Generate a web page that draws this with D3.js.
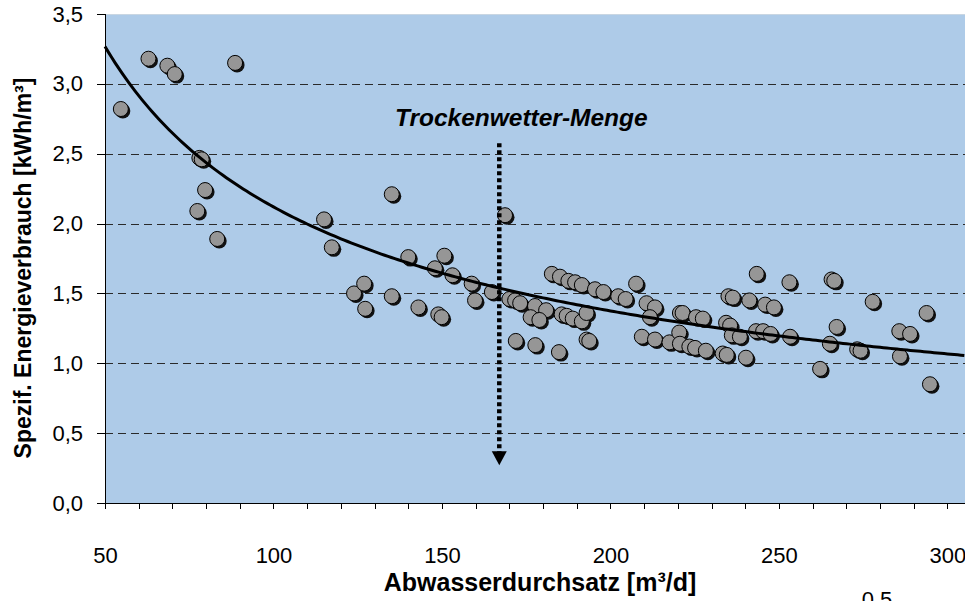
<!DOCTYPE html>
<html lang="de">
<head>
<meta charset="utf-8">
<title>Spezifischer Energieverbrauch</title>
<script src="https://d3js.org/d3.v7.min.js"></script>
<style>
  body { margin: 0; background: #fff; }
  .axis path, .axis line { fill: none; stroke: #000; shape-rendering: crispEdges; }
  .axis text { font-family: "Liberation Sans", Arial, sans-serif; font-size: 22px; fill: #000; }
  .title { font-family: "Liberation Sans", Arial, sans-serif; font-weight: bold; }
</style>
</head>
<body>
<script>
// Abwasserdurchsatz [m³/d]
var durchsatz = [54.7, 62.9, 68.5, 70.7, 88.6, 78.0, 78.7, 79.7, 77.4, 83.3,
  115.0, 117.3, 135.1, 123.9, 126.9, 127.2, 135.1, 140.0, 150.7, 147.9,
  153.1, 143.0, 148.9, 149.9, 158.8, 159.8, 164.8, 168.7, 170.0, 171.7,
  173.2, 171.9, 177.7, 184.7, 177.6, 180.9, 176.3, 178.9, 182.6, 185.0,
  187.5, 189.5, 191.5, 195.4, 197.9, 202.3, 204.5, 207.6, 185.5, 187.0,
  188.8, 191.5, 192.9, 192.9, 193.7, 210.7, 213.2, 211.7, 209.3, 213.2,
  220.6, 221.4, 225.4, 227.4, 217.5, 220.4, 220.6, 223.4, 225.1, 228.3,
  233.3, 234.5, 240.2, 235.0, 236.3, 241.2, 245.9, 248.5, 243.4, 253.1,
  234.3, 235.5, 236.0, 238.4, 243.2, 245.3, 247.5, 253.3, 265.6, 266.4,
  277.8, 293.8, 267.1, 285.7, 288.9, 265.1, 273.2, 274.2, 285.9, 262.2, 294.8];

// Spezif. Energieverbrauch [kWh/m³]
var energie = [2.82, 3.18, 3.13, 3.07, 3.15, 2.47, 2.46, 2.24, 2.09, 1.89,
  2.03, 1.83, 2.21, 1.50, 1.57, 1.39, 1.48, 1.76, 1.77, 1.68,
  1.63, 1.40, 1.35, 1.33, 1.57, 1.45, 1.51, 2.06, 1.46, 1.45,
  1.43, 1.16, 1.13, 1.08, 1.41, 1.38, 1.33, 1.31, 1.64, 1.62,
  1.59, 1.58, 1.56, 1.53, 1.51, 1.48, 1.46, 1.57, 1.35, 1.34,
  1.32, 1.30, 1.36, 1.17, 1.16, 1.43, 1.40, 1.33, 1.19, 1.17,
  1.36, 1.36, 1.33, 1.32, 1.15, 1.22, 1.14, 1.12, 1.11, 1.09,
  1.07, 1.06, 1.04, 1.48, 1.47, 1.45, 1.42, 1.40, 1.64, 1.58,
  1.29, 1.27, 1.20, 1.19, 1.23, 1.23, 1.21, 1.19, 1.60, 1.59,
  1.44, 1.36, 1.26, 1.23, 1.21, 1.14, 1.10, 1.09, 1.05, 0.96, 0.85];

var xTicks = [50, 100, 150, 200, 250, 300];
var yTicks = [0, 0.5, 1.0, 1.5, 2.0, 2.5, 3.0, 3.5];

// power trendline y = a * x^b
var trendA = 37.6;
var trendB = -0.6245;

// Trockenwetter-Menge marker (x, from y to y)
var twLabel = "Trockenwetter-Menge";
var twX = 167;
var twY = [2.575, 0.27];

var w = 965, h = 601;
var mLeft = 105, mTop = 14, mBottom = 503, mRight = 965;

var dataset = durchsatz.map(function (d, i) { return [d, energie[i]]; });

var xScale = d3.scaleLinear().domain([50, 305.2]).range([mLeft, mRight]);
var yScale = d3.scaleLinear().domain([0, 3.5]).range([mBottom, mTop]);

var fmt = function (d) { return d3.format(".1f")(d).replace(".", ","); };

var svg = d3.select("body").append("svg")
  .attr("width", w)
  .attr("height", h);

//plot area
svg.append("rect")
  .attr("x", mLeft).attr("y", mTop)
  .attr("width", mRight - mLeft).attr("height", mBottom - mTop)
  .attr("fill", "#aecbe8");

svg.append("line")
  .attr("x1", mLeft).attr("x2", mRight)
  .attr("y1", yScale(3.5) + 0.5).attr("y2", yScale(3.5) + 0.5)
  .attr("stroke", "#c9d6e2");

//gridlines
svg.selectAll(".grid")
  .data(yTicks.filter(function (d) { return d > 0 && d < 3.5; }))
  .enter().append("line")
  .attr("class", "grid")
  .attr("x1", mLeft).attr("x2", mRight)
  .attr("y1", function (d) { return Math.round(yScale(d)) + 0.5; })
  .attr("y2", function (d) { return Math.round(yScale(d)) + 0.5; })
  .attr("stroke", "#2a2a2a")
  .attr("stroke-dasharray", "8,5");

//points with shadow
var pts = svg.append("g");
pts.selectAll(".shadow")
  .data(dataset).enter().append("circle")
  .attr("class", "shadow")
  .attr("cx", function (d) { return xScale(d[0]) + 2; })
  .attr("cy", function (d) { return yScale(d[1]) + 2; })
  .attr("r", 7.5)
  .attr("fill", "#111");
pts.selectAll(".dot")
  .data(dataset).enter().append("circle")
  .attr("class", "dot")
  .attr("cx", function (d) { return xScale(d[0]); })
  .attr("cy", function (d) { return yScale(d[1]); })
  .attr("r", 7.5)
  .attr("fill", "#969696")
  .attr("stroke", "#000")
  .attr("stroke-width", 1);

//trendline
var trend = d3.range(50, 305.3, 1).map(function (x) { return [x, trendA * Math.pow(x, trendB)]; });
svg.append("path")
  .datum(trend)
  .attr("fill", "none")
  .attr("stroke", "#000")
  .attr("stroke-width", 3)
  .attr("d", d3.line()
    .x(function (d) { return xScale(d[0]); })
    .y(function (d) { return yScale(d[1]); }));

//dotted arrow
svg.append("line")
  .attr("x1", xScale(twX)).attr("x2", xScale(twX))
  .attr("y1", yScale(twY[0])).attr("y2", yScale(twY[1]) - 12)
  .attr("stroke", "#000")
  .attr("stroke-width", 4.5)
  .attr("stroke-dasharray", "4,3");
var ax = xScale(twX), ay = yScale(twY[1]);
svg.append("path")
  .attr("d", "M" + (ax - 7.5) + "," + (ay - 14) + "L" + (ax + 7.5) + "," + (ay - 14) + "L" + ax + "," + ay + "Z")
  .attr("fill", "#000");

svg.append("text")
  .attr("x", xScale(twX) + 22)
  .attr("y", 126)
  .attr("text-anchor", "middle")
  .attr("font-family", "Liberation Sans, Arial, sans-serif")
  .attr("font-size", "24.5px")
  .attr("font-weight", "bold")
  .attr("font-style", "italic")
  .text(twLabel);

//axes
var xAxis = d3.axisBottom(xScale)
  .tickValues(d3.range(50, 305, 10))
  .tickSize(6)
  .tickPadding(38)
  .tickFormat(function (d) { return xTicks.indexOf(d) >= 0 ? d : ""; });
svg.append("g")
  .attr("class", "axis")
  .attr("transform", "translate(0," + mBottom + ")")
  .call(xAxis)
  .call(function (g) { g.select(".domain").attr("d", "M" + mLeft + ",0.5H" + mRight); });

var yAxis = d3.axisLeft(yScale)
  .tickValues(yTicks)
  .tickSize(8)
  .tickPadding(14)
  .tickFormat(fmt);
svg.append("g")
  .attr("class", "axis")
  .attr("transform", "translate(" + mLeft + ",0)")
  .call(yAxis)
  .call(function (g) { g.select(".domain").attr("d", "M0.5," + mTop + "V" + mBottom); });

//axis titles
svg.append("text")
  .attr("class", "title")
  .attr("x", (mLeft + mRight) / 2 + 5)
  .attr("y", 591)
  .attr("text-anchor", "middle")
  .attr("font-size", "25px")
  .text("Abwasserdurchsatz [m³/d]");

svg.append("text")
  .attr("class", "title")
  .attr("transform", "translate(31," + 268 + ") rotate(-90)")
  .attr("text-anchor", "middle")
  .attr("font-size", "23px")
  .text("Spezif. Energieverbrauch [kWh/m³]");

//cut-off label of the next chart
svg.append("text")
  .attr("x", 877)
  .attr("y", 607)
  .attr("text-anchor", "middle")
  .attr("font-family", "Liberation Sans, Arial, sans-serif")
  .attr("font-size", "22px")
  .text("0,5");
</script>
</body>
</html>
